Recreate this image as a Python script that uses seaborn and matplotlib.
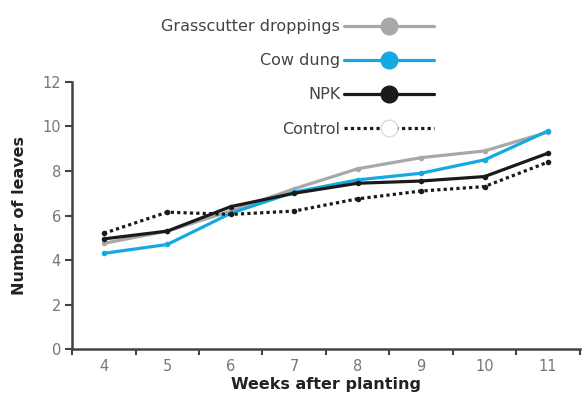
import matplotlib
matplotlib.use("Agg")
import matplotlib.pyplot as plt
import seaborn as sns
import numpy as np
import pandas as pd
from matplotlib.lines import Line2D

weeks = [4, 5, 6, 7, 8, 9, 10, 11]
grasscutter = [4.75, 5.3, 6.2, 7.2, 8.1, 8.6, 8.9, 9.75]
cow_dung = [4.3, 4.7, 6.1, 7.05, 7.6, 7.9, 8.5, 9.8]
npk = [4.95, 5.3, 6.4, 7.0, 7.45, 7.55, 7.75, 8.8]
control = [5.2, 6.15, 6.05, 6.2, 6.75, 7.1, 7.3, 8.4]
series_names = ["Grasscutter droppings", "Cow dung", "NPK", "Control"]

sns.set_theme(style="ticks")
plt.rcParams['font.family'] = ['DejaVu Sans']

fig = plt.figure(figsize=(5.82, 3.98), dpi=100)
ax = fig.add_axes([0.124, 0.123, 0.872, 0.671])

colors = ["#a8a8a8", "#14a9e3", "#1a1a1a", "#1a1a1a"]
styles = ["-", "-", "-", (0, (1, 1))]
data = [grasscutter, cow_dung, npk, control]
for name, vals, c, ls in zip(series_names, data, colors, styles):
    df = pd.DataFrame({"week": weeks, "leaves": vals})
    sns.lineplot(data=df, x="week", y="leaves", ax=ax, color=c, linewidth=2.3,
                 linestyle=ls, legend=False, marker="o", markersize=4,
                 markeredgewidth=0, markerfacecolor=c)

ax.set_xlim(3.5, 11.5)
ax.set_ylim(0, 12)
ax.set_yticks(np.arange(0, 13, 2))
ax.set_xticks(weeks)
ax.set_xticks(np.arange(3.5, 11.6, 1), minor=True)
ax.tick_params(axis="x", which="major", length=0, labelsize=10.5, labelcolor="#777777", pad=7)
ax.tick_params(axis="x", which="minor", length=4, width=1.5, color="#444444", direction="out")
ax.tick_params(axis="y", length=5, width=1.5, color="#444444", labelsize=10.5, labelcolor="#777777", pad=3)
for s in ["top", "right"]:
    ax.spines[s].set_visible(False)
for s in ["left", "bottom"]:
    ax.spines[s].set_color("#444444")
    ax.spines[s].set_linewidth(1.8)

ax.set_xlabel("Weeks after planting", fontsize=11.5, fontweight="bold", color="#222222", labelpad=2)
ax.set_ylabel("Number of leaves", fontsize=11.5, fontweight="bold", color="#222222", labelpad=11)

handles = [
    Line2D([], [], color=colors[0], lw=2.3, marker="o", markersize=12, markerfacecolor=colors[0], markeredgecolor=colors[0]),
    Line2D([], [], color=colors[1], lw=2.3, marker="o", markersize=12, markerfacecolor=colors[1], markeredgecolor=colors[1]),
    Line2D([], [], color=colors[2], lw=2.3, marker="o", markersize=12, markerfacecolor=colors[2], markeredgecolor=colors[2]),
    Line2D([], [], color=colors[3], lw=2.3, linestyle=(0, (1, 1)), marker="o", markersize=12,
           markerfacecolor="white", markeredgecolor="#dddddd"),
]
leg = fig.legend(handles, series_names, loc="upper right", bbox_to_anchor=(0.745, 0.952),
                 frameon=False, markerfirst=False, handlelength=5.6, handletextpad=0.25,
                 labelspacing=1.2, fontsize=11.5, borderpad=0, borderaxespad=0)
for t in leg.get_texts():
    t.set_color("#444444")

fig.savefig("out.png", dpi=100)
